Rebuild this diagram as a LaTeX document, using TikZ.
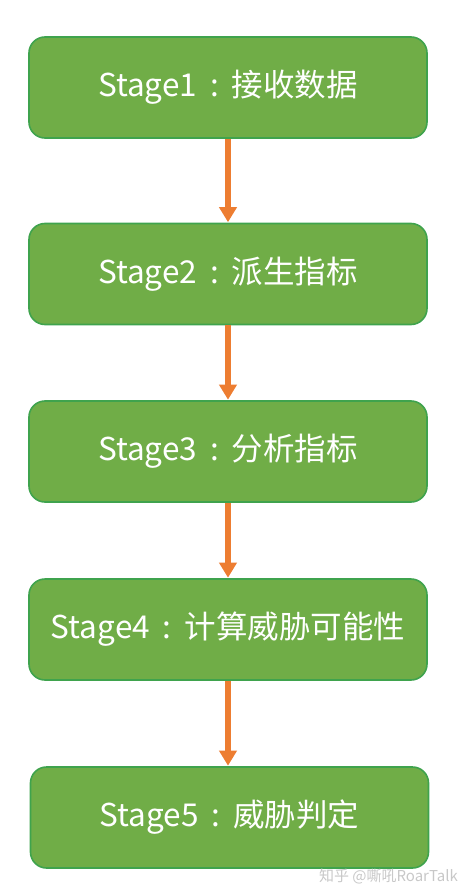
\documentclass[tikz,border=0pt]{standalone}
\usepackage{fontspec}
\setmainfont{Noto Sans CJK SC}
\usetikzlibrary{arrows.meta}
\definecolor{boxfill}{HTML}{70AD47}
\definecolor{boxline}{HTML}{3FA34D}
\definecolor{arrcol}{HTML}{ED7D31}
\definecolor{wmcol}{HTML}{C8C8C8}
\newcommand{\cc}{\makebox[1.1em]{:}}
\begin{document}
\begin{tikzpicture}[x=1pt,y=-1pt,
  stagebox/.style={draw=boxline, line width=1.6pt, fill=boxfill, rounded corners=16pt,
    minimum width=398pt, minimum height=101pt, inner sep=0pt, text=white,
    font=\fontsize{31.5}{36}\selectfont},
  arr/.style={draw=arrcol, line width=5.5pt, -{Triangle[width=17pt,length=15pt]}, shorten >=0.5pt}]
\useasboundingbox (0,0) rectangle (470,896);
\node[stagebox] (b1) at (228,87.5) {Stage1\cc 接收数据};
\node[stagebox] (b2) at (228,274) {Stage2\cc 派生指标};
\node[stagebox] (b3) at (228,451.5) {Stage3\cc 分析指标};
\node[stagebox] (b4) at (228,629.5) {Stage4\cc 计算威胁可能性};
\node[stagebox] (b5) at (229.5,817.5) {Stage5\cc 威胁判定};
\draw[arr] (b1.south) -- (b2.north);
\draw[arr] (b2.south) -- (b3.north);
\draw[arr] (b3.south) -- (b4.north);
\draw[arr] (b4.south) -- (b4.south |- b5.north);
\node[text=wmcol, font=\fontsize{15}{17}\selectfont, anchor=east, inner sep=0pt] (wm) at (458,876) {知乎 @嘶吼RoarTalk};
\end{tikzpicture}
\end{document}
